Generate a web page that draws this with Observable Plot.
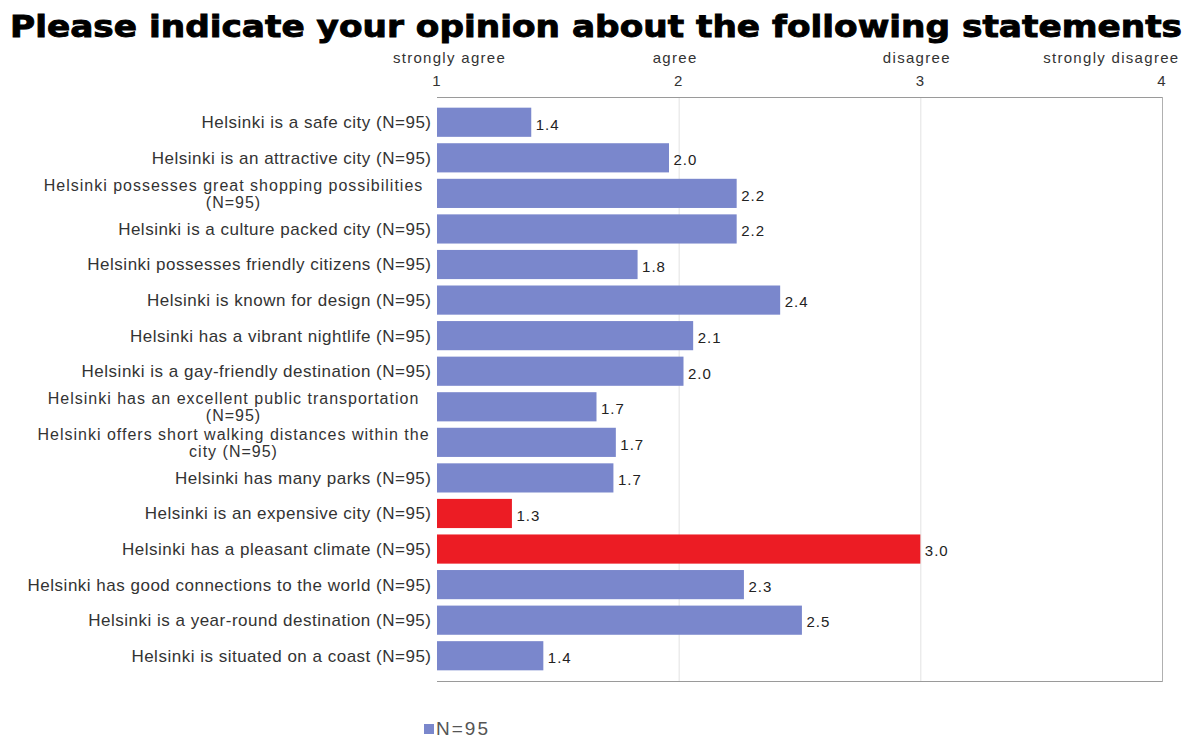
<!DOCTYPE html>
<html>
<head>
<meta charset="utf-8">
<script src="https://cdn.jsdelivr.net/npm/d3@7"></script>
<script src="https://cdn.jsdelivr.net/npm/@observablehq/plot@0.6"></script>
<style>
  body { margin: 0; background: #fff; font-family: "Liberation Sans", Arial, sans-serif; }
  #wrap { width: 1192px; height: 738px; overflow: hidden; position: relative; }
  #titlebox { height: 44px; position: relative; }
  #title { position: absolute; left: 596px; top: 9px; font-family: "DejaVu Sans", sans-serif; font-weight: bold; font-size: 30px; line-height: 36px; color: #000; white-space: nowrap; -webkit-text-stroke: 0.9px #000; transform-origin: 0 0; }
  #legend { position: absolute; left: 424px; top: 719px; font-size: 19px; line-height: 19px; letter-spacing: 2px; color: #555; display: flex; align-items: center; }
  #legend span.sw { display: inline-block; width: 10px; height: 10px; background: #7a87cc; margin-right: 2px; }
  .ylab text { letter-spacing: 0.5px; }
  .ylab2 text { letter-spacing: 1px; }
  .vlab text { letter-spacing: 1px; }
  .xword text { letter-spacing: 1.3px; }
</style>
</head>
<body>
<div id="wrap">
  <div id="titlebox"><div id="title">Please indicate your opinion about the following statements</div></div>
  <div id="chart"></div>
  <div id="legend"><span class="sw"></span>N=95</div>
</div>
<script>
const statements = [
  "Helsinki is a safe city (N=95)",
  "Helsinki is an attractive city (N=95)",
  "Helsinki possesses great shopping possibilities\n(N=95)",
  "Helsinki is a culture packed city (N=95)",
  "Helsinki possesses friendly citizens (N=95)",
  "Helsinki is known for design (N=95)",
  "Helsinki has a vibrant nightlife (N=95)",
  "Helsinki is a gay-friendly destination (N=95)",
  "Helsinki has an excellent public transportation\n(N=95)",
  "Helsinki offers short walking distances within the\ncity (N=95)",
  "Helsinki has many parks (N=95)",
  "Helsinki is an expensive city (N=95)",
  "Helsinki has a pleasant climate (N=95)",
  "Helsinki has good connections to the world (N=95)",
  "Helsinki is a year-round destination (N=95)",
  "Helsinki is situated on a coast (N=95)"
];
const means = [1.39, 1.96, 2.24, 2.24, 1.83, 2.42, 2.06, 2.02, 1.66, 1.74, 1.73, 1.31, 3.0, 2.27, 2.51, 1.44];
const valueLabels = ["1.4","2.0","2.2","2.2","1.8","2.4","2.1","2.0","1.7","1.7","1.7","1.3","3.0","2.3","2.5","1.4"];
const highlighted = [false,false,false,false,false,false,false,false,false,false,false,true,true,false,false,false];
const scaleTicks = [1, 2, 3, 4];
const scaleWords = ["strongly agree", "agree", "disagree", "strongly disagree"];

const rows = statements.map((s, i) => ({
  statement: s, mean: means[i], label: valueLabels[i], hi: highlighted[i],
  wrapped: s.includes("\n")
}));
const wordRows = scaleTicks.map((t, i) => ({t, w: scaleWords[i]}));

const blue = "#7a87cc", red = "#ec1c24";

const chart = Plot.plot({
  width: 1192,
  height: 657,
  marginLeft: 437,
  marginRight: 30,
  marginTop: 53,
  marginBottom: 20,
  style: {fontFamily: "Liberation Sans, Arial, sans-serif", fontSize: "15px", color: "#333", background: "#fff"},
  x: {domain: [1, 4], axis: null},
  y: {domain: statements, axis: null, paddingInner: 0.18, paddingOuter: 0.3, round: false},
  marks: [
    Plot.ruleX([2, 3], {stroke: "#e2e2e2", strokeWidth: 1, strokeOpacity: 1}),
    Plot.frame({anchor: "top", stroke: "#9a9a9a"}),
    Plot.frame({anchor: "bottom", stroke: "#9a9a9a"}),
    Plot.frame({anchor: "right", stroke: "#b0b0b0"}),
    Plot.barX(rows, {x1: 1, x2: "mean", y: "statement", fill: d => d.hi ? red : blue}),
    Plot.text(rows, {x: "mean", y: "statement", text: "label", textAnchor: "start", dx: 4, dy: 2, fill: "#222", fontSize: 15, className: "vlab"}),
    Plot.text(rows.filter(d => !d.wrapped), {x: 1, y: "statement", text: "statement", textAnchor: "end", dx: -6, fill: "#333", fontSize: 17, className: "ylab"}),
    Plot.text(rows.filter(d => d.wrapped), {x: 1, y: "statement", text: "statement", textAnchor: "middle", dx: -204, fill: "#333", fontSize: 16, lineHeight: 1.06, className: "ylab2"}),
    Plot.axisX(scaleTicks, {anchor: "top", tickSize: 0, tickPadding: 3, dy: -9, fontSize: 15, fill: "#333", tickFormat: d => String(d), dx: -1}),
    Plot.text(wordRows.slice(0, 1), {x: "t", text: "w", frameAnchor: "top", dy: -45, textAnchor: "middle", dx: 12, fontSize: 15, fill: "#333", className: "xword"}),
    Plot.text(wordRows.slice(1, 3), {x: "t", text: "w", frameAnchor: "top", dy: -45, textAnchor: "middle", dx: -4, fontSize: 15, fill: "#333", className: "xword"}),
    Plot.text(wordRows.slice(3), {x: "t", text: "w", frameAnchor: "top", dy: -45, textAnchor: "end", dx: 17, fontSize: 15, fill: "#333", className: "xword"})
  ]
});
document.getElementById("chart").appendChild(chart);

// fit title width to the reference's span (about 1172px), centred on the page
const t = document.getElementById("title");
const w = t.getBoundingClientRect().width;
const s = 1172 / w;
t.style.left = (596 - 1172 / 2) + "px";
t.style.transform = `scaleX(${s})`;
</script>
</body>
</html>
